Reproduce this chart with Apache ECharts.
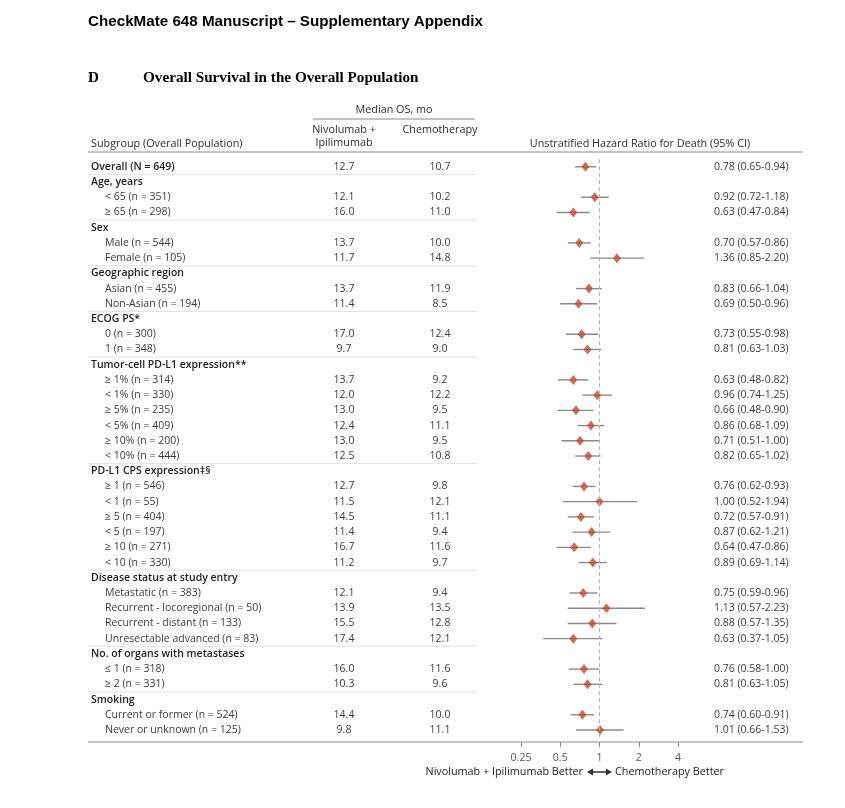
<!DOCTYPE html>
<html><head><meta charset="utf-8">
<script src="https://cdn.jsdelivr.net/npm/echarts@6/dist/echarts.min.js"></script>
<style>html,body{margin:0;padding:0;background:#fff}#c{width:845px;height:808px}</style>
</head><body><div id="c"></div><script>
const subgroups = [
  "Overall (N = 649)",
  "Age, years", "< 65 (n = 351)", "\u2265 65 (n = 298)",
  "Sex", "Male (n = 544)", "Female (n = 105)",
  "Geographic region", "Asian (n = 455)", "Non-Asian (n = 194)",
  "ECOG PS*", "0 (n = 300)", "1 (n = 348)",
  "Tumor-cell PD-L1 expression**", "\u2265 1% (n = 314)", "< 1% (n = 330)", "\u2265 5% (n = 235)", "< 5% (n = 409)", "\u2265 10% (n = 200)", "< 10% (n = 444)",
  "PD-L1 CPS expression\u2021\u00a7", "\u2265 1 (n = 546)", "< 1 (n = 55)", "\u2265 5 (n = 404)", "< 5 (n = 197)", "\u2265 10 (n = 271)", "< 10 (n = 330)",
  "Disease status at study entry", "Metastatic (n = 383)", "Recurrent - locoregional (n = 50)", "Recurrent - distant (n = 133)", "Unresectable advanced (n = 83)",
  "No. of organs with metastases", "\u2264 1 (n = 318)", "\u2265 2 (n = 331)",
  "Smoking", "Current or former (n = 524)", "Never or unknown (n = 125)"
];
const nivoMedian = [12.7, null, 12.1, 16.0, null, 13.7, 11.7, null, 13.7, 11.4, null, 17.0, 9.7,
  null, 13.7, 12.0, 13.0, 12.4, 13.0, 12.5, null, 12.7, 11.5, 14.5, 11.4, 16.7, 11.2,
  null, 12.1, 13.9, 15.5, 17.4, null, 16.0, 10.3, null, 14.4, 9.8];
const chemoMedian = [10.7, null, 10.2, 11.0, null, 10.0, 14.8, null, 11.9, 8.5, null, 12.4, 9.0,
  null, 9.2, 12.2, 9.5, 11.1, 9.5, 10.8, null, 9.8, 12.1, 11.1, 9.4, 11.6, 9.7,
  null, 9.4, 13.5, 12.8, 12.1, null, 11.6, 9.6, null, 10.0, 11.1];
const hazardRatio = [0.78, null, 0.92, 0.63, null, 0.70, 1.36, null, 0.83, 0.69, null, 0.73, 0.81,
  null, 0.63, 0.96, 0.66, 0.86, 0.71, 0.82, null, 0.76, 1.00, 0.72, 0.87, 0.64, 0.89,
  null, 0.75, 1.13, 0.88, 0.63, null, 0.76, 0.81, null, 0.74, 1.01];
const ciLower = [0.65, null, 0.72, 0.47, null, 0.57, 0.85, null, 0.66, 0.50, null, 0.55, 0.63,
  null, 0.48, 0.74, 0.48, 0.68, 0.51, 0.65, null, 0.62, 0.52, 0.57, 0.62, 0.47, 0.69,
  null, 0.59, 0.57, 0.57, 0.37, null, 0.58, 0.63, null, 0.60, 0.66];
const ciUpper = [0.94, null, 1.18, 0.84, null, 0.86, 2.20, null, 1.04, 0.96, null, 0.98, 1.03,
  null, 0.82, 1.25, 0.90, 1.09, 1.00, 1.02, null, 0.93, 1.94, 0.91, 1.21, 0.86, 1.14,
  null, 0.96, 2.23, 1.35, 1.05, null, 1.00, 1.05, null, 0.91, 1.53];
const hrTicks = [0.25, 0.5, 1, 2, 4];

const FONT = '"Open Sans", "Noto Sans", sans-serif';
const rowIdx = subgroups.map((_, i) => i);
const isHeader = i => hazardRatio[i] == null;
const isTop = i => i === 0 || isHeader(i);
const endsGroup = i => i < subgroups.length - 1 && isTop(i + 1);

const GRID_TOP = 159.2, GRID_H = 578.4;

function renderTable(params, api) {
  const i = api.value(1);
  const y = api.coord([0, i])[1];
  const band = api.size([0, 1])[1];
  const top = isTop(i);
  const base = { fontFamily: FONT, fontSize: 10.5, verticalAlign: 'middle' };
  const kids = [];
  kids.push({ type: 'text', style: Object.assign({}, base, {
    x: top ? 91 : 105, y: y, text: subgroups[i], align: 'left',
    fill: top ? '#1e1e1e' : '#3c3c3c', fontWeight: top ? 600 : 'normal' }) });
  if (nivoMedian[i] != null) kids.push({ type: 'text', style: Object.assign({}, base, {
    x: 344, y: y, text: nivoMedian[i].toFixed(1), align: 'center', fill: '#3c3c3c' }) });
  if (chemoMedian[i] != null) kids.push({ type: 'text', style: Object.assign({}, base, {
    x: 440, y: y, text: chemoMedian[i].toFixed(1), align: 'center', fill: '#3c3c3c' }) });
  if (hazardRatio[i] != null) kids.push({ type: 'text', style: Object.assign({}, base, {
    x: 714, y: y,
    text: hazardRatio[i].toFixed(2) + ' (' + ciLower[i].toFixed(2) + '-' + ciUpper[i].toFixed(2) + ')',
    align: 'left', fill: '#3c3c3c' }) });
  if (endsGroup(i)) kids.push({ type: 'line', shape: { x1: 88, y1: y + band / 2, x2: 477, y2: y + band / 2 },
    style: { stroke: '#e2e2e2', lineWidth: 1 } });
  return { type: 'group', children: kids };
}

function renderCI(params, api) {
  const p1 = api.coord([api.value(0), api.value(2)]);
  const p2 = api.coord([api.value(1), api.value(2)]);
  return { type: 'line', shape: { x1: p1[0], y1: p1[1], x2: p2[0], y2: p2[1] },
    style: { stroke: '#8a8a8a', lineWidth: 1.4 } };
}

const forestRows = rowIdx.filter(i => hazardRatio[i] != null);

const chart = echarts.init(document.getElementById('c'));
const txt = (x, y, text, o) => ({ type: 'text', x: x, y: y, style: Object.assign({ text: text, fontFamily: FONT, fontSize: 10.8, fill: '#2e2e2e', verticalAlign: 'middle' }, o || {}) });
chart.setOption({
  backgroundColor: '#fff',
  animation: false,
  grid: [
    { left: 88, width: 715, top: GRID_TOP, height: GRID_H },
    { left: 521, width: 157, top: GRID_TOP, height: GRID_H }
  ],
  xAxis: [
    { gridIndex: 0, type: 'value', min: 0, max: 715, show: false },
    { gridIndex: 1, type: 'log', logBase: 2, min: 0.25, max: 4, position: 'bottom', offset: 4.4,
      axisLine: { show: false },
      axisTick: { show: true, length: 5, lineStyle: { color: '#888' }, customValues: hrTicks },
      axisLabel: { show: true, margin: 11, color: '#555', fontFamily: FONT, fontSize: 10.5, customValues: hrTicks, formatter: v => String(v) },
      splitLine: { show: false } }
  ],
  yAxis: [
    { gridIndex: 0, type: 'category', data: rowIdx, inverse: true, show: false },
    { gridIndex: 1, type: 'category', data: rowIdx, inverse: true, show: false }
  ],
  series: [
    { type: 'custom', xAxisIndex: 0, yAxisIndex: 0, renderItem: renderTable,
      data: rowIdx.map(i => [0, i]), encode: { x: 0, y: 1 }, silent: true },
    { type: 'custom', xAxisIndex: 1, yAxisIndex: 1, renderItem: renderCI,
      data: forestRows.map(i => [ciLower[i], ciUpper[i], i]), encode: { x: [0, 1], y: 2 }, silent: true, z: 2 },
    { type: 'scatter', xAxisIndex: 1, yAxisIndex: 1, symbol: 'diamond', symbolSize: [8, 10],
      itemStyle: { color: '#c4492b' }, z: 3,
      data: forestRows.map(i => [hazardRatio[i], i]),
      markLine: { silent: true, symbol: 'none', label: { show: false },
        lineStyle: { type: [4, 3], color: '#b4b4b4', width: 1 }, data: [{ xAxis: 1 }] } }
  ],
  graphic: [
    txt(88, 22, 'CheckMate 648 Manuscript \u2013 Supplementary Appendix',
      { fontFamily: '"Liberation Sans", Arial, sans-serif', fontSize: 15.2, fontWeight: 'bold', fill: '#000' }),
    txt(88, 78, 'D', { fontFamily: '"Liberation Serif", "Times New Roman", serif', fontSize: 15.2, fontWeight: 'bold', fill: '#000' }),
    txt(143, 78, 'Overall Survival in the Overall Population',
      { fontFamily: '"Liberation Serif", "Times New Roman", serif', fontSize: 15.2, fontWeight: 'bold', fill: '#000' }),
    txt(394, 110, 'Median OS, mo', { align: 'center' }),
    { type: 'line', shape: { x1: 313, y1: 119, x2: 475, y2: 119 }, style: { stroke: '#888', lineWidth: 1 } },
    txt(344, 130, 'Nivolumab +', { align: 'center' }),
    txt(344, 143, 'Ipilimumab', { align: 'center' }),
    txt(440, 130, 'Chemotherapy', { align: 'center' }),
    txt(91, 144, 'Subgroup (Overall Population)'),
    txt(640, 144, 'Unstratified Hazard Ratio for Death (95% CI)', { align: 'center' }),
    { type: 'line', shape: { x1: 88, y1: 152, x2: 803, y2: 152 }, style: { stroke: '#8a8a8a', lineWidth: 1 } },
    { type: 'line', shape: { x1: 88, y1: 742, x2: 803, y2: 742 }, style: { stroke: '#8a8a8a', lineWidth: 1 } },
    txt(583, 772, 'Nivolumab + Ipilimumab Better', { align: 'right', fontSize: 10.8, fill: '#222' }),
    txt(615, 772, 'Chemotherapy Better', { align: 'left', fontSize: 10.8, fill: '#222' }),
    { type: 'line', shape: { x1: 591, y1: 772, x2: 608, y2: 772 }, style: { stroke: '#333', lineWidth: 1.5 } },
    { type: 'polygon', shape: { points: [[587, 772], [593, 768.5], [593, 775.5]] }, style: { fill: '#333' } },
    { type: 'polygon', shape: { points: [[612, 772], [606, 768.5], [606, 775.5]] }, style: { fill: '#333' } }
  ]
});
</script></body></html>
